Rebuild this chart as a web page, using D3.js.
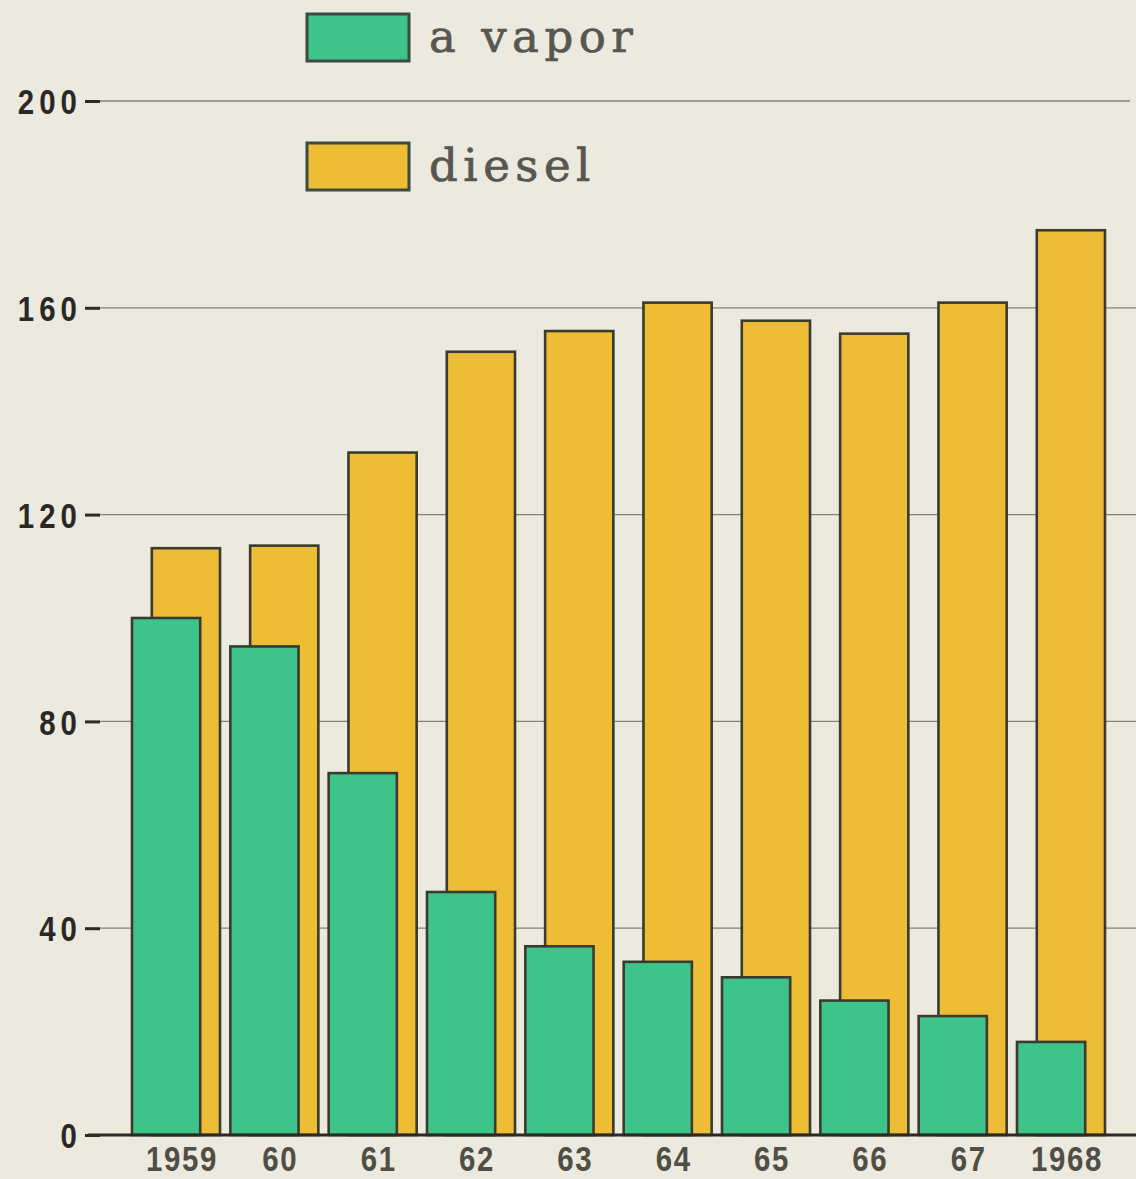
<!DOCTYPE html>
<html>
<head>
<meta charset="utf-8">
<script src="https://cdn.jsdelivr.net/npm/d3@7/dist/d3.min.js"></script>
<style>
  html, body { margin: 0; padding: 0; background: #ece9de; }
  svg { display: block; }
</style>
</head>
<body>
<svg id="chart" width="1136" height="1179"></svg>
<script>
// Locomotive fleet, 1959–1968: steam ("a vapor") vs diesel
const years = ["1959", "1960", "1961", "1962", "1963", "1964", "1965", "1966", "1967", "1968"];
const yearLabels = ["1959", "60", "61", "62", "63", "64", "65", "66", "67", "1968"];
const vapor = [100, 94.5, 70, 47, 36.5, 33.5, 30.5, 26, 23, 18];
const diesel = [113.5, 114, 132, 151.5, 155.5, 161, 157.5, 155, 161, 175];
const yTicks = [0, 40, 80, 120, 160, 200];
const seriesNames = ["a vapor", "diesel"];
const seriesColors = ["#3ec38a", "#edbd36"];

const svg = d3.select("#chart");
const W = 1136;
const outline = "#3b3a2e";
const labelFont = "'Liberation Sans', Arial, sans-serif";
const narrow = 0.84; // horizontal squeeze for the condensed numerals

const y = d3.scaleLinear().domain([0, 200]).range([1135, 101]);
const x = d3.scaleBand().domain(years).range([132, 1105]).paddingInner(0.105).paddingOuter(0);
const barW = x.bandwidth() * 0.775;
const shift = x.bandwidth() - barW;

// background
svg.append("rect").attr("width", W).attr("height", 1179).attr("fill", "#ece9de");

// grid lines
svg.append("g").selectAll("line")
  .data(yTicks.filter(d => d > 0))
  .join("line")
  .attr("x1", 100).attr("x2", d => d === 200 ? 1130 : W)
  .attr("y1", d => y(d)).attr("y2", d => y(d))
  .attr("stroke", "#858277").attr("stroke-width", 1.3);

// y axis: short heavy ticks + labels
const yAxis = d3.axisLeft(y).tickValues(yTicks).tickSize(15).tickPadding(3).tickFormat(d3.format("d"));
const gy = svg.append("g").attr("transform", "translate(100,0)").call(yAxis);
gy.select(".domain").remove();
gy.selectAll(".tick line").attr("stroke", "#2c2a24").attr("stroke-width", 3);
gy.selectAll(".tick text")
  .attr("fill", "#2a2824")
  .attr("font-family", labelFont)
  .attr("font-weight", "bold")
  .attr("font-size", 35)
  .attr("letter-spacing", 6)
  .attr("x", -18 / narrow)
  .attr("transform", `scale(${narrow},1)`)
  .attr("dy", "0.36em");

// diesel bars (behind)
svg.append("g").selectAll("rect")
  .data(years.map((yr, i) => ({ yr, v: diesel[i] })))
  .join("rect")
  .attr("x", d => x(d.yr) + shift)
  .attr("y", d => y(d.v))
  .attr("width", barW)
  .attr("height", d => y(0) - y(d.v))
  .attr("fill", seriesColors[1])
  .attr("stroke", outline).attr("stroke-width", 2.6);

// steam bars (front)
svg.append("g").selectAll("rect")
  .data(years.map((yr, i) => ({ yr, v: vapor[i] })))
  .join("rect")
  .attr("x", d => x(d.yr))
  .attr("y", d => y(d.v))
  .attr("width", barW)
  .attr("height", d => y(0) - y(d.v))
  .attr("fill", seriesColors[0])
  .attr("stroke", outline).attr("stroke-width", 2.6);

// baseline
svg.append("line")
  .attr("x1", 88).attr("x2", W)
  .attr("y1", y(0)).attr("y2", y(0))
  .attr("stroke", "#2c2a24").attr("stroke-width", 3);

// x axis labels
const xAxis = d3.axisBottom(x).tickSize(0).tickPadding(11).tickFormat((d, i) => yearLabels[i]);
const gx = svg.append("g").attr("transform", `translate(6,${y(0)})`).call(xAxis);
gx.select(".domain").remove();
gx.selectAll(".tick text")
  .attr("fill", "#504e45")
  .attr("font-family", labelFont)
  .attr("font-weight", "bold")
  .attr("font-size", 35)
  .attr("letter-spacing", 2)
  .attr("transform", `scale(${narrow},1)`)
  .attr("dy", "0.71em");

// legend
const legend = svg.append("g");
const legendRows = [{ y: 14 }, { y: 143 }];
seriesNames.forEach((name, i) => {
  const g = legend.append("g").attr("transform", `translate(307,${legendRows[i].y})`);
  g.append("rect")
    .attr("width", 102).attr("height", 47)
    .attr("fill", seriesColors[i])
    .attr("stroke", "#3d4a40").attr("stroke-width", 3);
  g.append("text")
    .attr("x", 122).attr("y", 38)
    .attr("fill", "#57564f")
    .attr("stroke", "#57564f").attr("stroke-width", 0.7)
    .attr("font-family", "'DejaVu Serif', 'Liberation Serif', serif")
    .attr("font-size", 45)
    .attr("letter-spacing", 5.5)
    .text(name);
});
</script>
</body>
</html>
